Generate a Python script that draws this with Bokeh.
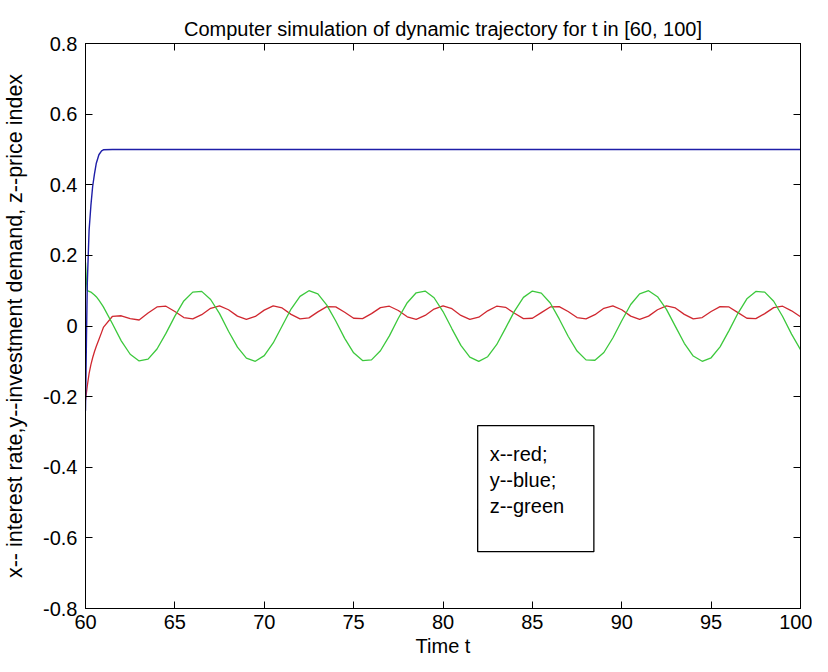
import math
from bokeh.plotting import figure
from bokeh.models import Range1d, FixedTicker, BoxAnnotation, Label, LinearAxis
from bokeh.embed import file_html
from bokeh.resources import INLINE

# ---------------- data ----------------
t = [60.0, 60.05, 60.1, 60.2, 60.3, 60.4, 60.5, 60.6, 60.75, 60.9,
     61.0, 61.5, 62.0, 62.5, 63.0, 63.5, 64.0, 64.5, 65.0, 65.5,
     66.0, 66.5, 67.0, 67.5, 68.0, 68.5, 69.0, 69.5, 70.0, 70.5,
     71.0, 71.5, 72.0, 72.5, 73.0, 73.5, 74.0, 74.5, 75.0, 75.5,
     76.0, 76.5, 77.0, 77.5, 78.0, 78.5, 79.0, 79.5, 80.0, 80.5,
     81.0, 81.5, 82.0, 82.5, 83.0, 83.5, 84.0, 84.5, 85.0, 85.5,
     86.0, 86.5, 87.0, 87.5, 88.0, 88.5, 89.0, 89.5, 90.0, 90.5,
     91.0, 91.5, 92.0, 92.5, 93.0, 93.5, 94.0, 94.5, 95.0, 95.5,
     96.0, 96.5, 97.0, 97.5, 98.0, 98.5, 99.0, 99.5, 100.0]

# x -- interest rate (red)
x_rate = [-0.21, -0.19, -0.17, -0.135, -0.11, -0.09, -0.073, -0.058, -0.038, -0.018,
          -0.004, 0.027, 0.029, 0.021, 0.017, 0.037, 0.054, 0.056, 0.041, 0.024,
          0.020, 0.032, 0.050, 0.057, 0.046, 0.028, 0.019, 0.027, 0.045, 0.057,
          0.051, 0.033, 0.020, 0.023, 0.040, 0.055, 0.054, 0.039, 0.022, 0.021,
          0.035, 0.052, 0.056, 0.044, 0.026, 0.019, 0.030, 0.048, 0.057, 0.049,
          0.030, 0.019, 0.025, 0.043, 0.056, 0.053, 0.036, 0.021, 0.022, 0.038,
          0.054, 0.055, 0.041, 0.024, 0.020, 0.032, 0.050, 0.057, 0.046, 0.028,
          0.019, 0.028, 0.046, 0.057, 0.051, 0.033, 0.020, 0.024, 0.041, 0.055,
          0.054, 0.038, 0.022, 0.021, 0.035, 0.052, 0.056, 0.043, 0.026]

# y -- investment demand (blue)
y_invest = [-0.24, -0.05, 0.12, 0.27, 0.34, 0.395, 0.43, 0.46, 0.485, 0.496,
            0.499, 0.5, 0.5, 0.5, 0.5, 0.5, 0.5, 0.5, 0.5, 0.5,
            0.5, 0.5, 0.5, 0.5, 0.5, 0.5, 0.5, 0.5, 0.5, 0.5,
            0.5, 0.5, 0.5, 0.5, 0.5, 0.5, 0.5, 0.5, 0.5, 0.5,
            0.5, 0.5, 0.5, 0.5, 0.5, 0.5, 0.5, 0.5, 0.5, 0.5,
            0.5, 0.5, 0.5, 0.5, 0.5, 0.5, 0.5, 0.5, 0.5, 0.5,
            0.5, 0.5, 0.5, 0.5, 0.5, 0.5, 0.5, 0.5, 0.5, 0.5,
            0.5, 0.5, 0.5, 0.5, 0.5, 0.5, 0.5, 0.5, 0.5, 0.5,
            0.5, 0.5, 0.5, 0.5, 0.5, 0.5, 0.5, 0.5, 0.5]

# z -- price index (green)
z_price = [0.18, 0.13, 0.100, 0.098, 0.096, 0.092, 0.088, 0.083, 0.073, 0.062,
           0.054, 0.007, -0.042, -0.080, -0.099, -0.094, -0.065, -0.021, 0.028, 0.071,
           0.096, 0.098, 0.075, 0.035, -0.015, -0.060, -0.091, -0.100, -0.084, -0.048,
           0.000, 0.048, 0.084, 0.100, 0.091, 0.059, 0.014, -0.035, -0.076, -0.098,
           -0.096, -0.070, -0.028, 0.022, 0.066, 0.094, 0.099, 0.080, 0.041, -0.008,
           -0.055, -0.088, -0.100, -0.087, -0.053, -0.006, 0.042, 0.081, 0.099, 0.093,
           0.065, 0.020, -0.029, -0.071, -0.096, -0.097, -0.075, -0.034, 0.015, 0.061,
           0.091, 0.100, 0.083, 0.047, -0.001, -0.049, -0.085, -0.100, -0.090, -0.059,
           -0.013, 0.036, 0.077, 0.098, 0.096, 0.070, 0.027, -0.023, -0.067]

x_ticks = [60, 65, 70, 75, 80, 85, 90, 95, 100]
y_ticks = [-0.8, -0.6, -0.4, -0.2, 0.0, 0.2, 0.4, 0.6, 0.8]
y_tick_labels = ["-0.8", "-0.6", "-0.4", "-0.2", "0", "0.2", "0.4", "0.6", "0.8"]

title_text = "Computer simulation of dynamic trajectory for t in [60, 100]"
x_label = "Time t"
y_label = "x-- interest rate,y--investment demand, z--price index"
note_lines = ["x--red;", "y--blue;", "z--green"]

# ---------------- figure ----------------
FONT = "Liberation Sans"
FS = "20px"
TICK = 7

p = figure(width=812, height=664, output_backend="svg", toolbar_location=None,
           x_range=Range1d(x_ticks[0], x_ticks[-1]), y_range=Range1d(y_ticks[0], y_ticks[-1]),
           min_border_left=80, min_border_right=12, min_border_top=43, min_border_bottom=56,
           background_fill_color="white", border_fill_color="white")

p.title.text = title_text
p.title.align = "center"
p.title.text_font = FONT
p.title.text_font_size = FS
p.title.text_font_style = "normal"
p.title.text_color = "black"
p.title.standoff = 8

p.grid.visible = False
p.outline_line_color = "black"
p.outline_line_width = 1

def style_axis(ax, labels=True):
    ax.axis_line_color = "black"
    ax.major_tick_line_color = "black"
    ax.major_tick_in = TICK
    ax.major_tick_out = 0
    ax.minor_tick_line_color = None
    ax.major_label_text_font = FONT
    ax.major_label_text_font_size = FS if labels else "0px"
    ax.major_label_text_color = "black"
    ax.axis_label_text_font = FONT
    ax.axis_label_text_font_style = "normal"
    ax.axis_label_text_color = "black"
    if not labels:
        ax.major_label_standoff = 0
        ax.axis_label = None

xa = p.xaxis[0]
xa.ticker = FixedTicker(ticks=x_ticks)
style_axis(xa)
xa.axis_label = x_label
xa.axis_label_text_font_size = FS
xa.major_label_standoff = 6
xa.axis_label_standoff = 3

ya = p.yaxis[0]
ya.ticker = FixedTicker(ticks=y_ticks)
style_axis(ya)
ya.major_label_overrides = {v: s for v, s in zip(y_ticks, y_tick_labels)}
ya.axis_label = y_label
ya.axis_label_text_font_size = "21.5px"
ya.major_label_standoff = 8
ya.axis_label_standoff = 13

# box axes on the top and right edges, ticks pointing inward
top_ax = LinearAxis(ticker=FixedTicker(ticks=x_ticks))
style_axis(top_ax, labels=False)
p.add_layout(top_ax, "above")
right_ax = LinearAxis(ticker=FixedTicker(ticks=y_ticks))
style_axis(right_ax, labels=False)
p.add_layout(right_ax, "right")

p.line(t, x_rate, line_color="#d02830", line_width=1.3)
p.line(t, z_price, line_color="#3cc83c", line_width=1.3)
p.line(t, y_invest, line_color="#1e1ea8", line_width=1.4)

box = BoxAnnotation(left=81.94, right=88.44, top=-0.282, bottom=-0.639,
                    fill_color="white", fill_alpha=1.0,
                    line_color="black", line_alpha=1.0, line_width=1.3)
p.add_layout(box)
for i, txt in enumerate(note_lines):
    p.add_layout(Label(x=82.61, y=-0.363 - 0.074 * i, text=txt,
                       text_baseline="alphabetic", text_align="left",
                       text_font=FONT, text_font_size=FS, text_color="black"))

open("out.html", "w").write(file_html(p, INLINE))
